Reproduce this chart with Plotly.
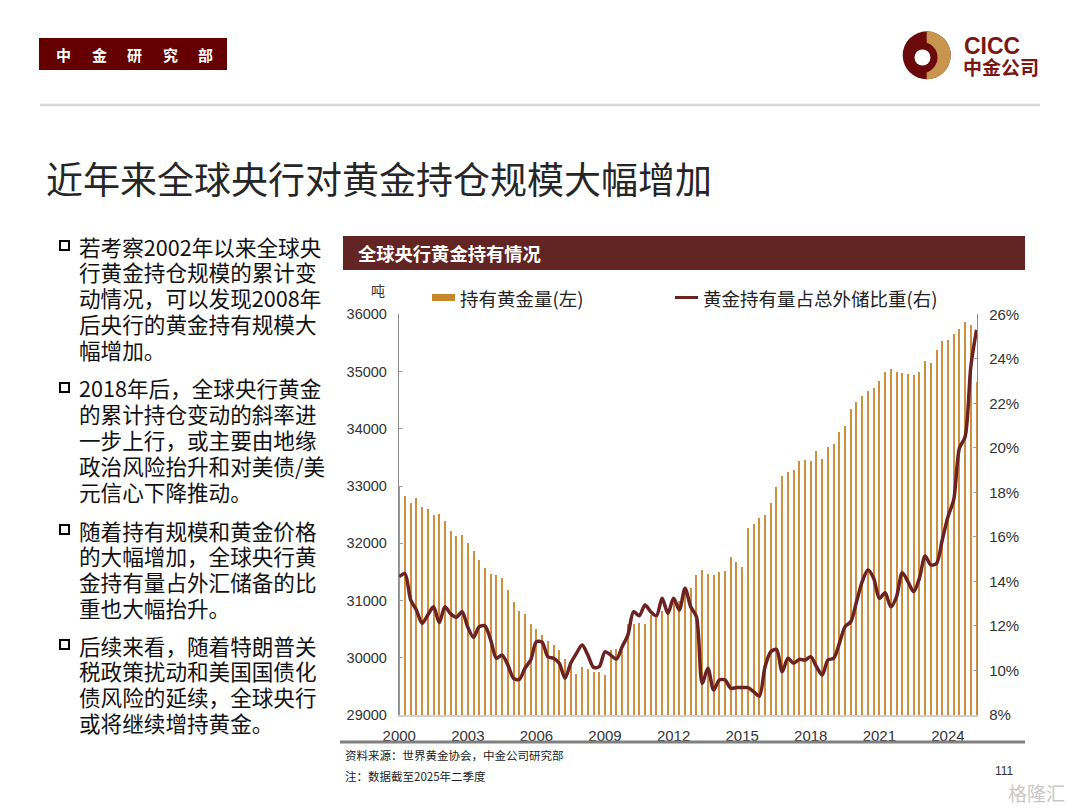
import math
import plotly.graph_objects as go

# ---------------- data ----------------
years = list(range(2000, 2026))
quarters = [f"{y}Q{q}" for y in years for q in range(1, 5)][:102]  # 2000Q1 .. 2025Q2

gold_tonnes = [
    32990, 32826, 32698, 32785, 32628, 32593, 32494, 32511, 32384, 32214,
    32127, 32144, 31999, 31865, 31707, 31568, 31463, 31446, 31381, 31183,
    30962, 30805, 30759, 30584, 30497, 30397, 30293, 30223, 30135, 29978,
    29873, 29716, 29838, 29803, 29739, 29739, 29698, 30135, 30152, 30117,
    30584, 30584, 30607, 30590, 30735, 30764, 30805, 30805, 30951, 30980,
    31100, 31206, 31446, 31533, 31463, 31446, 31498, 31516, 31748, 31667,
    31573, 32261, 32331, 32436, 32494, 32698, 32978, 33163, 33233, 33268,
    33425, 33455, 33425, 33600, 33472, 33670, 33734, 33932, 34049, 34346,
    34468, 34573, 34660, 34707, 34835, 34992, 35044, 34992, 34975, 34957,
    34934, 34992, 35179, 35144, 35376, 35521, 35551, 35651, 35738, 35860,
    35813, 34812,
]

gold_share_pct = [
    14.21, 14.35, 13.17, 12.72, 12.12, 12.49, 12.86, 12.15, 12.86, 12.54,
    12.39, 12.64, 11.94, 11.49, 11.97, 12.00, 11.37, 10.55, 10.69, 10.25,
    9.65, 9.60, 10.10, 10.47, 11.29, 11.27, 10.62, 10.55, 10.32, 9.65,
    10.32, 10.77, 11.14, 10.69, 10.14, 10.17, 10.84, 10.69, 10.51, 11.07,
    11.59, 12.64, 12.46, 12.94, 12.64, 12.46, 13.24, 12.57, 13.24, 12.72,
    13.69, 12.86, 12.41, 9.42, 10.10, 9.12, 9.57, 9.57, 9.20, 9.23,
    9.23, 9.23, 9.05, 8.85, 10.17, 10.84, 10.95, 9.94, 10.55, 10.32,
    10.50, 10.47, 10.62, 10.17, 9.80, 10.47, 10.55, 11.22, 11.97, 12.19,
    13.09, 13.99, 14.51, 14.14, 13.24, 13.49, 12.86, 13.31, 14.39, 13.99,
    13.54, 14.14, 15.14, 14.74, 14.81, 15.86, 16.91, 17.66, 19.98, 20.50,
    23.65, 25.30,
]

x_tick_years = [2000, 2003, 2006, 2009, 2012, 2015, 2018, 2021, 2024]
x_tick_labels = [str(y) for y in x_tick_years]
left_ticks = [29000, 30000, 31000, 32000, 33000, 34000, 35000, 36000]
right_ticks = [8, 10, 12, 14, 16, 18, 20, 22, 24, 26]

bullets = [
    ["若考察2002年以来全球央", "行黄金持仓规模的累计变", "动情况，可以发现2008年",
     "后央行的黄金持有规模大", "幅增加。"],
    ["2018年后，全球央行黄金", "的累计持仓变动的斜率进", "一步上行，或主要由地缘",
     "政治风险抬升和对美债/美", "元信心下降推动。"],
    ["随着持有规模和黄金价格", "的大幅增加，全球央行黄", "金持有量占外汇储备的比",
     "重也大幅抬升。"],
    ["后续来看，随着特朗普关", "税政策扰动和美国国债化", "债风险的延续，全球央行",
     "或将继续增持黄金。"],
]
bullet_start_y = [246, 388, 530, 645]

# ---------------- helpers ----------------
W, H = 1080, 810
def px(x):
    return x / W
def py(y):
    return 1 - y / H

CJK = "Noto Sans CJK SC"
LAT = "Liberation Sans, Arial, Noto Sans CJK SC"
BAR_COLOR = "#CD903E"
LINE_COLOR = "#6B2222"
DARK_RED = "#640000"

xpos = [int(q[:4]) + (int(q[-1]) - 1) / 4 for q in quarters]

fig = go.Figure()
fig.add_trace(go.Bar(
    x=xpos, y=gold_tonnes, width=0.045, marker=dict(color=BAR_COLOR, line=dict(width=0)),
    name="持有黄金量(左)", yaxis="y", showlegend=False,
))
fig.add_trace(go.Scatter(
    x=xpos, y=gold_share_pct, mode="lines",
    line=dict(color=LINE_COLOR, width=3.5, shape="spline", smoothing=0.8),
    name="黄金持有量占总外储比重(右)", yaxis="y2", showlegend=False,
))

shapes = []
annotations = []

def text(x, y, s, size, color="#000000", family=CJK, xanchor="left", yanchor="middle"):
    annotations.append(dict(
        x=px(x), y=py(y), xref="paper", yref="paper", text=s, showarrow=False,
        xanchor=xanchor, yanchor=yanchor, font=dict(size=size, color=color, family=family),
    ))

def rect(x0, y0, x1, y1, fill, line_color=None, lw=0):
    shapes.append(dict(
        type="rect", xref="paper", yref="paper", x0=px(x0), x1=px(x1), y0=py(y1), y1=py(y0),
        fillcolor=fill, line=dict(color=line_color or fill, width=lw), layer="above",
    ))

def hline(x0, x1, y, color, lw):
    shapes.append(dict(type="line", xref="paper", yref="paper", x0=px(x0), x1=px(x1),
                       y0=py(y), y1=py(y), line=dict(color=color, width=lw)))

def circle(cx, cy, r, fill):
    shapes.append(dict(type="circle", xref="paper", yref="paper",
                       x0=px(cx - r), x1=px(cx + r), y0=py(cy + r), y1=py(cy - r),
                       fillcolor=fill, line=dict(width=0), layer="above"))

# header box
rect(39, 38, 227, 70, DARK_RED)
for i, ch in enumerate("中金研究部"):
    text(63.5 + i * 35.5, 54.5, "<b>" + ch + "</b>", 15, "#ffffff", xanchor="center")

# logo
cx, cy, r = 926.7, 55.3, 24
circle(cx, cy, r, "#6A0A0A")
pts = []
for k in range(0, 41):
    a = math.pi / 2 - math.pi * k / 40
    pts.append((cx + r * math.cos(a), cy - r * math.sin(a)))
path = "M " + " L ".join(f"{px(x):.5f},{py(y):.5f}" for x, y in pts) + " Z"
shapes.append(dict(type="path", xref="paper", yref="paper", path=path,
                   fillcolor="#C9954E", line=dict(width=0), layer="above"))
circle(922.0, 57.5, 15.5, "#6A0A0A")
circle(922.5, 57.5, 8.0, "#ffffff")
text(962, 46.5, "<b>CICC</b>", 23, "#7A1712", family=LAT)
text(961, 66.5, "<b>中金公司</b>", 19, "#7A1712")

# separator line
hline(40, 1040, 105, "#D9D9D9", 2.5)

# title
text(44, 178, "近年来全球央行对黄金持仓规模大幅增加", 37, "#262626")

# bullets
for para, y0 in zip(bullets, bullet_start_y):
    rect(60, y0 - 5, 69, y0 + 4, "rgba(0,0,0,0)", "#000000", 2)
    for j, line in enumerate(para):
        text(77, y0 + j * 25.8, line, 21.6, "#111111")

# chart header
rect(343, 236, 1025, 270, "#632523")
text(356, 253, "<b>全球央行黄金持有情况</b>", 18.3, "#ffffff")

# unit and legend
text(378, 290, "吨", 14, "#333333", xanchor="center")
rect(432, 294, 455, 301, "#C8862A")
text(458, 298, "持有黄金量(左)", 18.5, "#222222")
hline(675, 698, 297.5, LINE_COLOR, 3)
text(701, 298, "黄金持有量占总外储比重(右)", 18.5, "#222222")

# bottom rule and notes
hline(340, 1025, 742, "#808080", 3)
text(343, 755, "资料来源：世界黄金协会，中金公司研究部", 11.5, "#222222")
text(343, 776, "注：数据截至2025年二季度", 11.5, "#222222")
text(1004, 771, "111", 12, "#333333", family=LAT, xanchor="center")
text(1036, 792, "格隆汇", 19, "#C8C8C8", xanchor="center")

x0_px, x1_px, top_px, bot_px = 399, 977, 314.3, 715

fig.update_layout(
    width=W, height=H,
    margin=dict(l=0, r=0, t=0, b=0, autoexpand=False),
    paper_bgcolor="#ffffff", plot_bgcolor="#ffffff",
    bargap=0, showlegend=False,
    font=dict(family=LAT, color="#333333"),
    xaxis=dict(
        domain=[px(x0_px), px(x1_px)], range=[1999.99, 2025.27],
        tickvals=x_tick_years, ticktext=x_tick_labels,
        showgrid=False, zeroline=False, showline=True, linecolor="#D0D0D0", linewidth=1.5,
        ticks="", tickfont=dict(size=15, color="#333333", family=LAT), ticklabelstandoff=6,
    ),
    yaxis=dict(
        domain=[1 - bot_px / H, 1 - top_px / H], range=[29000, 36000],
        tickvals=left_ticks, ticktext=[str(v) for v in left_ticks],
        showgrid=False, zeroline=False, showline=True, linecolor="#8C8C8C", linewidth=1.3,
        ticks="inside", ticklen=4, tickcolor="#A0A0A0",
        tickfont=dict(size=14.5, color="#333333", family=LAT), ticklabelstandoff=8,
    ),
    yaxis2=dict(
        overlaying="y", side="right", anchor="x", range=[8, 26],
        tickvals=right_ticks, ticktext=[f"{v}%" for v in right_ticks],
        showgrid=False, zeroline=False, showline=True, linecolor="#8C8C8C", linewidth=1.3,
        ticks="inside", ticklen=4, tickcolor="#A0A0A0",
        tickfont=dict(size=15, color="#333333", family=LAT), ticklabelstandoff=8,
    ),
    shapes=shapes, annotations=annotations,
)

fig.write_html(
    "out.html",
    config={"displayModeBar": False},
    post_script="document.body.style.margin='0';document.body.style.overflow='hidden';",
)
